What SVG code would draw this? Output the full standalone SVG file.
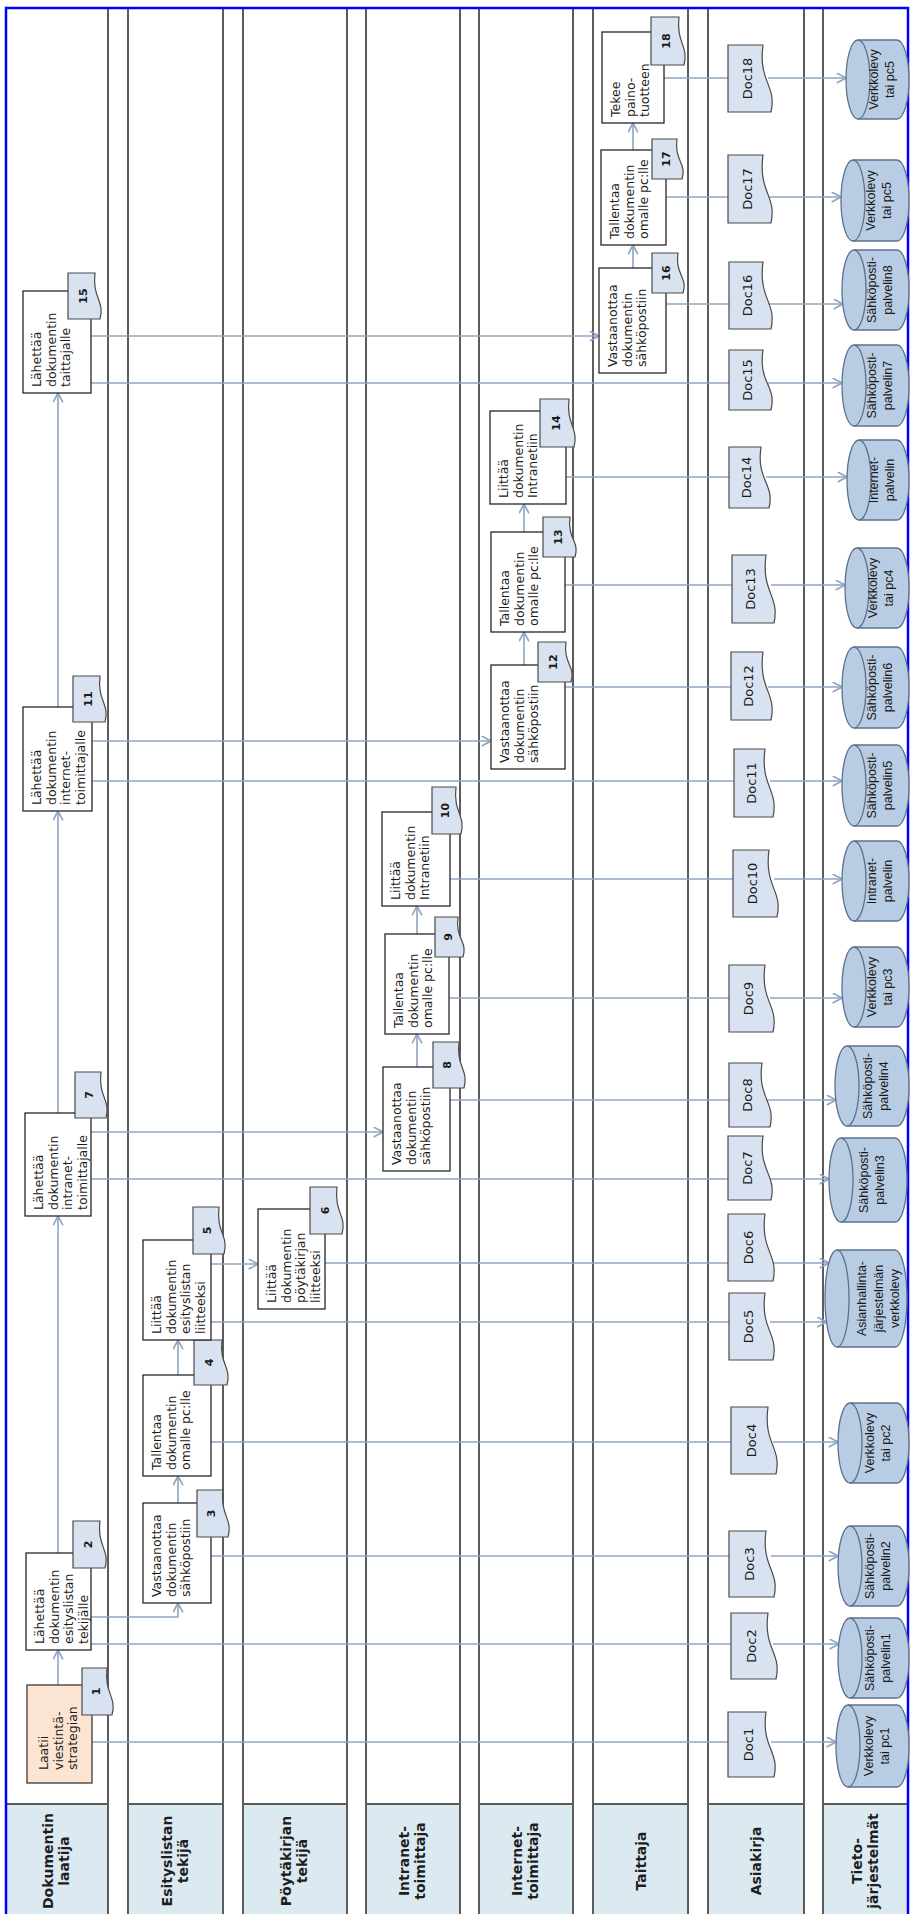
<svg xmlns="http://www.w3.org/2000/svg" width="910" height="1914" viewBox="0 0 910 1914">
<defs>
<style>
.lane{fill:#fff;stroke:#5c5c5c;stroke-width:2}
.hdr{fill:#dbe9f1;stroke:#5c5c5c;stroke-width:2}
.ht{font-family:"DejaVu Sans",Verdana,sans-serif;font-weight:bold;font-size:14px;fill:#1e1e1e;text-anchor:middle}
.box{fill:#fff;stroke:#262626;stroke-width:1.3}
.start{fill:#fce4d2;stroke:#3a3a3a;stroke-width:1.3}
.nt{font-family:"DejaVu Sans",Verdana,sans-serif;font-size:12.5px;fill:#1a1a1a}
.doc{fill:#d8e2f0;stroke:#4a4a4a;stroke-width:1.2}
.dt{font-family:"DejaVu Sans",Verdana,sans-serif;font-size:13px;fill:#1a1a1a;text-anchor:middle}
.bt{font-family:"DejaVu Sans",Verdana,sans-serif;font-weight:bold;font-size:11px;fill:#1a1a1a;text-anchor:middle}
.cyl{fill:#b8cce4;stroke:#5d718e;stroke-width:1.3}
.cap{fill:none;stroke:#5d718e;stroke-width:1.3}
.ct{font-family:"Liberation Sans",Arial,sans-serif;font-size:12.5px;fill:#1a1a1a;text-anchor:middle}
.c{fill:none;stroke:#8ea5c3;stroke-width:1.6}
.a{marker-end:url(#arr)}
</style>
<marker id="arr" viewBox="0 0 10 10" refX="9.5" refY="5" markerWidth="11" markerHeight="11" markerUnits="userSpaceOnUse" orient="auto"><path d="M1,0.5 L9.5,5 L1,9.5" fill="none" stroke="#8ea5c3" stroke-width="1.5"/></marker>
</defs>
<rect width="910" height="1914" fill="#fff"/>

<g id="lanes">
<g id="lane-dokumentin-laatija"><rect class="lane" x="6" y="8" width="102" height="1796"/><rect class="hdr" x="6" y="1804" width="102" height="115"/>
<text class="ht" transform="translate(57,1861) rotate(-90)"><tspan x="0" y="-4">Dokumentin</tspan><tspan x="0" y="12">laatija</tspan></text></g>
<g id="lane-esityslistan-tekija"><rect class="lane" x="128" y="8" width="95" height="1796"/><rect class="hdr" x="128" y="1804" width="95" height="115"/>
<text class="ht" transform="translate(175.5,1861) rotate(-90)"><tspan x="0" y="-4">Esityslistan</tspan><tspan x="0" y="12">tekijä</tspan></text></g>
<g id="lane-poytakirjan-tekija"><rect class="lane" x="243" y="8" width="104" height="1796"/><rect class="hdr" x="243" y="1804" width="104" height="115"/>
<text class="ht" transform="translate(295,1861) rotate(-90)"><tspan x="0" y="-4">Pöytäkirjan</tspan><tspan x="0" y="12">tekijä</tspan></text></g>
<g id="lane-intranet-toimittaja"><rect class="lane" x="366" y="8" width="94" height="1796"/><rect class="hdr" x="366" y="1804" width="94" height="115"/>
<text class="ht" transform="translate(413,1861) rotate(-90)"><tspan x="0" y="-4">Intranet-</tspan><tspan x="0" y="12">toimittaja</tspan></text></g>
<g id="lane-internet-toimittaja"><rect class="lane" x="479" y="8" width="94" height="1796"/><rect class="hdr" x="479" y="1804" width="94" height="115"/>
<text class="ht" transform="translate(526,1861) rotate(-90)"><tspan x="0" y="-4">Internet-</tspan><tspan x="0" y="12">toimittaja</tspan></text></g>
<g id="lane-taittaja"><rect class="lane" x="593" y="8" width="95" height="1796"/><rect class="hdr" x="593" y="1804" width="95" height="115"/>
<text class="ht" transform="translate(640.5,1861) rotate(-90)"><tspan x="0" y="5">Taittaja</tspan></text></g>
<g id="lane-asiakirja"><rect class="lane" x="708" y="8" width="96" height="1796"/><rect class="hdr" x="708" y="1804" width="96" height="115"/>
<text class="ht" transform="translate(756,1861) rotate(-90)"><tspan x="0" y="5">Asiakirja</tspan></text></g>
<g id="lane-tietojarjestelmat"><rect class="lane" x="823" y="8" width="85" height="1796"/><rect class="hdr" x="823" y="1804" width="85" height="115"/>
<text class="ht" transform="translate(865.5,1861) rotate(-90)"><tspan x="0" y="-4">Tieto-</tspan><tspan x="0" y="12">järjestelmät</tspan></text></g>
<path d="M6 1914V8H908V1914" fill="none" stroke="#0000ff" stroke-width="2.5"/>
</g>

<g id="connectors">
<path class="c a" d="M58 1685V1650"/>
<path class="c a" d="M58 1553V1216"/>
<path class="c a" d="M58 1113V811"/>
<path class="c a" d="M58 707V393"/>
<path class="c a" d="M178 1503V1476"/>
<path class="c a" d="M178 1375V1340"/>
<path class="c a" d="M91 1617H178V1603"/>
<path class="c a" d="M211 1264H258"/>
<path class="c a" d="M417 1067V1034"/>
<path class="c a" d="M417 934V906"/>
<path class="c a" d="M91 1132H383"/>
<path class="c a" d="M524 665V632"/>
<path class="c a" d="M524 532V504"/>
<path class="c a" d="M92 741H491"/>
<path class="c a" d="M633 268V245"/>
<path class="c a" d="M633 150V123"/>
<path class="c a" d="M91 336H599"/>
<path class="c" d="M92 1742H728"/>
<path class="c" d="M91 1644H731"/>
<path class="c" d="M211 1556H729"/>
<path class="c" d="M211 1442H731"/>
<path class="c" d="M211 1322H729"/>
<path class="c" d="M325 1263H728"/>
<path class="c" d="M91 1179H728"/>
<path class="c" d="M450 1100H729"/>
<path class="c" d="M449 998H729"/>
<path class="c" d="M450 879H733"/>
<path class="c" d="M92 781H734"/>
<path class="c" d="M565 687H731"/>
<path class="c" d="M565 585H732"/>
<path class="c" d="M566 477H729"/>
<path class="c" d="M91 383H729"/>
<path class="c" d="M666 304H729"/>
<path class="c" d="M666 197H728"/>
<path class="c" d="M664 78H728"/>
<path class="c a" d="M771 1742H836"/>
<path class="c a" d="M773 1644H839"/>
<path class="c a" d="M771 1556H838"/>
<path class="c a" d="M773 1442H838"/>
<path class="c a" d="M770 1322H826.5"/>
<path class="c a" d="M770 1263H829"/>
<path class="c a" d="M768 1179H829"/>
<path class="c a" d="M767 1100H836"/>
<path class="c a" d="M770 998H842"/>
<path class="c a" d="M774 879H842"/>
<path class="c a" d="M770 781H842"/>
<path class="c a" d="M768 687H842"/>
<path class="c a" d="M771 585H845"/>
<path class="c a" d="M766 477H847"/>
<path class="c a" d="M768 383H842"/>
<path class="c a" d="M768 304H843"/>
<path class="c a" d="M768 197H841"/>
<path class="c a" d="M768 78H846"/>
</g>

<g id="n1"><rect class="start" x="27" y="1685" width="65" height="98"/>
<text class="nt" transform="translate(27,1783) rotate(-90)"><tspan x="13" y="21">Laatii</tspan><tspan x="13" y="35.5">viestintä-</tspan><tspan x="13" y="50">strategian</tspan></text>
<path class="doc" d="M82 1668H107C104 1693.9 117 1696.2 112 1715H82Z"/><text class="bt" transform="translate(95.5,1691.5) rotate(-90)" y="4">1</text></g>

<g id="n2"><rect class="box" x="26" y="1553" width="65" height="97"/>
<text class="nt" transform="translate(26,1650) rotate(-90)"><tspan x="6" y="18">Lähettää</tspan><tspan x="6" y="32.5">dokumentin</tspan><tspan x="6" y="47">esityslistan</tspan><tspan x="6" y="61.5">tekijälle</tspan></text>
<path class="doc" d="M73 1521H100C97 1546.9 110 1549.2 105 1568H73Z"/><text class="bt" transform="translate(87.5,1544.5) rotate(-90)" y="4">2</text></g>

<g id="n3"><rect class="box" x="143" y="1503" width="68" height="100"/>
<text class="nt" transform="translate(143,1603) rotate(-90)"><tspan x="6" y="18">Vastaanottaa</tspan><tspan x="6" y="32.5">dokumentin</tspan><tspan x="6" y="47">sähköpostiin</tspan></text>
<path class="doc" d="M197 1490H223C220 1515.9 233 1518.2 228 1537H197Z"/><text class="bt" transform="translate(211,1513.5) rotate(-90)" y="4">3</text></g>

<g id="n4"><rect class="box" x="143" y="1375" width="68" height="101"/>
<text class="nt" transform="translate(143,1476) rotate(-90)"><tspan x="6" y="18">Tallentaa</tspan><tspan x="6" y="32.5">dokumentin</tspan><tspan x="6" y="47">omalle pc:lle</tspan></text>
<path class="doc" d="M194 1340H222C219 1364.8 232 1367 227 1385H194Z"/><text class="bt" transform="translate(209,1362.5) rotate(-90)" y="4">4</text></g>

<g id="n5"><rect class="box" x="143" y="1240" width="68" height="100"/>
<text class="nt" transform="translate(143,1340) rotate(-90)"><tspan x="6" y="18">Liittää</tspan><tspan x="6" y="32.5">dokumentin</tspan><tspan x="6" y="47">esityslistan</tspan><tspan x="6" y="61.5">liitteeksi</tspan></text>
<path class="doc" d="M193 1207H219C216 1232.9 229 1235.2 224 1254H193Z"/><text class="bt" transform="translate(207,1230.5) rotate(-90)" y="4">5</text></g>

<g id="n6"><rect class="box" x="258" y="1209" width="67" height="100"/>
<text class="nt" transform="translate(258,1309) rotate(-90)"><tspan x="6" y="18">Liittää</tspan><tspan x="6" y="32.5">dokumentin</tspan><tspan x="6" y="47">pöytäkirjan</tspan><tspan x="6" y="61.5">liitteeksi</tspan></text>
<path class="doc" d="M310 1187H337C334 1212.9 347 1215.2 342 1234H310Z"/><text class="bt" transform="translate(324.5,1210.5) rotate(-90)" y="4">6</text></g>

<g id="n7"><rect class="box" x="25" y="1113" width="66" height="103"/>
<text class="nt" transform="translate(25,1216) rotate(-90)"><tspan x="6" y="18">Lähettää</tspan><tspan x="6" y="32.5">dokumentin</tspan><tspan x="6" y="47">intranet-</tspan><tspan x="6" y="61.5">toimittajalle</tspan></text>
<path class="doc" d="M75 1072H101C98 1097.3 111 1099.6 106 1118H75Z"/><text class="bt" transform="translate(89,1095) rotate(-90)" y="4">7</text></g>

<g id="n8"><rect class="box" x="383" y="1067" width="67" height="104"/>
<text class="nt" transform="translate(383,1171) rotate(-90)"><tspan x="6" y="18">Vastaanottaa</tspan><tspan x="6" y="32.5">dokumentin</tspan><tspan x="6" y="47">sähköpostiin</tspan></text>
<path class="doc" d="M433 1042H459C456 1067.3 469 1069.6 464 1088H433Z"/><text class="bt" transform="translate(447,1065) rotate(-90)" y="4">8</text></g>

<g id="n9"><rect class="box" x="385" y="934" width="64" height="100"/>
<text class="nt" transform="translate(385,1034) rotate(-90)"><tspan x="6" y="18">Tallentaa</tspan><tspan x="6" y="32.5">dokumentin</tspan><tspan x="6" y="47">omalle pc:lle</tspan></text>
<path class="doc" d="M435 917H458C455 939 468 941 463 957H435Z"/><text class="bt" transform="translate(447.5,937) rotate(-90)" y="4">9</text></g>

<g id="n10"><rect class="box" x="382" y="812" width="68" height="94"/>
<text class="nt" transform="translate(382,906) rotate(-90)"><tspan x="6" y="18">Liittää</tspan><tspan x="6" y="32.5">dokumentin</tspan><tspan x="6" y="47">Intranetiin</tspan></text>
<path class="doc" d="M432 787H456C453 812.9 466 815.2 461 834H432Z"/><text class="bt" transform="translate(445,810.5) rotate(-90)" y="4">10</text></g>

<g id="n11"><rect class="box" x="23" y="707" width="69" height="104"/>
<text class="nt" transform="translate(23,811) rotate(-90)"><tspan x="6" y="18">Lähettää</tspan><tspan x="6" y="32.5">dokumentin</tspan><tspan x="6" y="47">internet-</tspan><tspan x="6" y="61.5">toimittajalle</tspan></text>
<path class="doc" d="M73 676H100C97 701.3 110 703.6 105 722H73Z"/><text class="bt" transform="translate(87.5,699) rotate(-90)" y="4">11</text></g>

<g id="n12"><rect class="box" x="491" y="665" width="74" height="104"/>
<text class="nt" transform="translate(491,769) rotate(-90)"><tspan x="6" y="18">Vastaanottaa</tspan><tspan x="6" y="32.5">dokumentin</tspan><tspan x="6" y="47">sähköpostiin</tspan></text>
<path class="doc" d="M538 642H566C563 664 576 666 571 682H538Z"/><text class="bt" transform="translate(553,662) rotate(-90)" y="4">12</text></g>

<g id="n13"><rect class="box" x="491" y="532" width="74" height="100"/>
<text class="nt" transform="translate(491,632) rotate(-90)"><tspan x="6" y="18">Tallentaa</tspan><tspan x="6" y="32.5">dokumentin</tspan><tspan x="6" y="47">omalle pc:lle</tspan></text>
<path class="doc" d="M543 517H570C567 539 580 541 575 557H543Z"/><text class="bt" transform="translate(557.5,537) rotate(-90)" y="4">13</text></g>

<g id="n14"><rect class="box" x="490" y="411" width="76" height="93"/>
<text class="nt" transform="translate(490,504) rotate(-90)"><tspan x="6" y="18">Liittää</tspan><tspan x="6" y="32.5">dokumentin</tspan><tspan x="6" y="47">Intranetiin</tspan></text>
<path class="doc" d="M540 399H569C566 425.4 579 427.8 574 447H540Z"/><text class="bt" transform="translate(555.5,423) rotate(-90)" y="4">14</text></g>

<g id="n15"><rect class="box" x="23" y="291" width="68" height="102"/>
<text class="nt" transform="translate(23,393) rotate(-90)"><tspan x="6" y="18">Lähettää</tspan><tspan x="6" y="32.5">dokumentin</tspan><tspan x="6" y="47">taittajalle</tspan></text>
<path class="doc" d="M68 273H95C92 298.3 105 300.6 100 319H68Z"/><text class="bt" transform="translate(82.5,296) rotate(-90)" y="4">15</text></g>

<g id="n16"><rect class="box" x="599" y="268" width="67" height="105"/>
<text class="nt" transform="translate(599,373) rotate(-90)"><tspan x="6" y="18">Vastaanottaa</tspan><tspan x="6" y="32.5">dokumentin</tspan><tspan x="6" y="47">sähköpostiin</tspan></text>
<path class="doc" d="M652 253H678C675 275 688 277 683 293H652Z"/><text class="bt" transform="translate(666,273) rotate(-90)" y="4">16</text></g>

<g id="n17"><rect class="box" x="601" y="150" width="65" height="95"/>
<text class="nt" transform="translate(601,245) rotate(-90)"><tspan x="6" y="18">Tallentaa</tspan><tspan x="6" y="32.5">dokumentin</tspan><tspan x="6" y="47">omalle pc:lle</tspan></text>
<path class="doc" d="M652 139H677C674 161 687 163 682 179H652Z"/><text class="bt" transform="translate(665.5,159) rotate(-90)" y="4">17</text></g>

<g id="n18"><rect class="box" x="602" y="32" width="62" height="91"/>
<text class="nt" transform="translate(602,123) rotate(-90)"><tspan x="6" y="18">Tekee</tspan><tspan x="6" y="32.5">paino-</tspan><tspan x="6" y="47">tuotteen</tspan></text>
<path class="doc" d="M651 17H679C676 43.4 689 45.8 684 65H651Z"/><text class="bt" transform="translate(666,41) rotate(-90)" y="4">18</text></g>

<g id="doc1"><path class="doc" d="M728 1712H766C761 1747.8 780 1751 774 1777H728Z"/><text class="dt" transform="translate(748.5,1744.5) rotate(-90)" y="4.5">Doc1</text></g>
<g id="doc2"><path class="doc" d="M731 1613H768C763 1649.3 782 1652.6 776 1679H731Z"/><text class="dt" transform="translate(751,1646) rotate(-90)" y="4.5">Doc2</text></g>
<g id="doc3"><path class="doc" d="M729 1531H766C761 1567.3 780 1570.6 774 1597H729Z"/><text class="dt" transform="translate(749,1564) rotate(-90)" y="4.5">Doc3</text></g>
<g id="doc4"><path class="doc" d="M731 1407H768C763 1443.9 782 1447.2 776 1474H731Z"/><text class="dt" transform="translate(751,1440.5) rotate(-90)" y="4.5">Doc4</text></g>
<g id="doc5"><path class="doc" d="M729 1293H765C760 1329.9 779 1333.2 773 1360H729Z"/><text class="dt" transform="translate(748.5,1326.5) rotate(-90)" y="4.5">Doc5</text></g>
<g id="doc6"><path class="doc" d="M728 1214H765C760 1250.9 779 1254.2 773 1281H728Z"/><text class="dt" transform="translate(748,1247.5) rotate(-90)" y="4.5">Doc6</text></g>
<g id="doc7"><path class="doc" d="M728 1136H763C758 1171.2 777 1174.4 771 1200H728Z"/><text class="dt" transform="translate(747,1168) rotate(-90)" y="4.5">Doc7</text></g>
<g id="doc8"><path class="doc" d="M729 1063H762C757 1098.2 776 1101.4 770 1127H729Z"/><text class="dt" transform="translate(747,1095) rotate(-90)" y="4.5">Doc8</text></g>
<g id="doc9"><path class="doc" d="M729 965H765C760 1001.9 779 1005.2 773 1032H729Z"/><text class="dt" transform="translate(748.5,998.5) rotate(-90)" y="4.5">Doc9</text></g>
<g id="doc10"><path class="doc" d="M733 850H769C764 886.9 783 890.2 777 917H733Z"/><text class="dt" transform="translate(752.5,883.5) rotate(-90)" y="4.5">Doc10</text></g>
<g id="doc11"><path class="doc" d="M734 749H765C760 786.4 779 789.8 773 817H734Z"/><text class="dt" transform="translate(751,783) rotate(-90)" y="4.5">Doc11</text></g>
<g id="doc12"><path class="doc" d="M731 652H763C758 689.4 777 692.8 771 720H731Z"/><text class="dt" transform="translate(748.5,686) rotate(-90)" y="4.5">Doc12</text></g>
<g id="doc13"><path class="doc" d="M732 555H766C761 592.4 780 595.8 774 623H732Z"/><text class="dt" transform="translate(750.5,589) rotate(-90)" y="4.5">Doc13</text></g>
<g id="doc14"><path class="doc" d="M729 447H761C756 480.6 775 483.6 769 508H729Z"/><text class="dt" transform="translate(746.5,477.5) rotate(-90)" y="4.5">Doc14</text></g>
<g id="doc15"><path class="doc" d="M729 350H763C758 383 777 386 771 410H729Z"/><text class="dt" transform="translate(747.5,380) rotate(-90)" y="4.5">Doc15</text></g>
<g id="doc16"><path class="doc" d="M729 262H763C758 298.9 777 302.2 771 329H729Z"/><text class="dt" transform="translate(747.5,295.5) rotate(-90)" y="4.5">Doc16</text></g>
<g id="doc17"><path class="doc" d="M728 155H763C758 192.4 777 195.8 771 223H728Z"/><text class="dt" transform="translate(747,189) rotate(-90)" y="4.5">Doc17</text></g>
<g id="doc18"><path class="doc" d="M728 45H763C758 81.9 777 85.2 771 112H728Z"/><text class="dt" transform="translate(747,78.5) rotate(-90)" y="4.5">Doc18</text></g>

<g id="sys1"><path class="cyl" d="M848 1705H897A12 41 0 0 1 897 1787H848A12 41 0 0 1 848 1705Z"/><path class="cap" d="M848 1705A12 41 0 0 1 848 1787"/>
<text class="ct" transform="translate(872.5,1746) rotate(-90)"><tspan x="0" y="0">Verkkolevy</tspan><tspan x="0" y="16">tai pc1</tspan></text></g>
<g id="sys2"><path class="cyl" d="M850 1618H897A12 40 0 0 1 897 1698H850A12 40 0 0 1 850 1618Z"/><path class="cap" d="M850 1618A12 40 0 0 1 850 1698"/>
<text class="ct" transform="translate(873.5,1658) rotate(-90)"><tspan x="0" y="0">Sähköposti-</tspan><tspan x="0" y="16">palvelin1</tspan></text></g>
<g id="sys3"><path class="cyl" d="M850 1526H897A12 40 0 0 1 897 1606H850A12 40 0 0 1 850 1526Z"/><path class="cap" d="M850 1526A12 40 0 0 1 850 1606"/>
<text class="ct" transform="translate(873.5,1566) rotate(-90)"><tspan x="0" y="0">Sähköposti-</tspan><tspan x="0" y="16">palvelin2</tspan></text></g>
<g id="sys4"><path class="cyl" d="M850 1403H897A12 40 0 0 1 897 1483H850A12 40 0 0 1 850 1403Z"/><path class="cap" d="M850 1403A12 40 0 0 1 850 1483"/>
<text class="ct" transform="translate(873.5,1443) rotate(-90)"><tspan x="0" y="0">Verkkolevy</tspan><tspan x="0" y="16">tai pc2</tspan></text></g>
<g id="sys5"><path class="cyl" d="M837 1250H895A12 48.5 0 0 1 895 1347H837A12 48.5 0 0 1 837 1250Z"/><path class="cap" d="M837 1250A12 48.5 0 0 1 837 1347"/>
<text class="ct" transform="translate(866,1298.5) rotate(-90)"><tspan x="0" y="0">Asianhallinta-</tspan><tspan x="0" y="16.5">järjestelmän</tspan><tspan x="0" y="33">verkkolevy</tspan></text></g>
<g id="sys6"><path class="cyl" d="M841 1138H895A12 42 0 0 1 895 1222H841A12 42 0 0 1 841 1138Z"/><path class="cap" d="M841 1138A12 42 0 0 1 841 1222"/>
<text class="ct" transform="translate(868,1180) rotate(-90)"><tspan x="0" y="0">Sähköposti-</tspan><tspan x="0" y="16">palvelin3</tspan></text></g>
<g id="sys7"><path class="cyl" d="M847 1046H897A12 40 0 0 1 897 1126H847A12 40 0 0 1 847 1046Z"/><path class="cap" d="M847 1046A12 40 0 0 1 847 1126"/>
<text class="ct" transform="translate(872,1086) rotate(-90)"><tspan x="0" y="0">Sähköposti-</tspan><tspan x="0" y="16">palvelin4</tspan></text></g>
<g id="sys8"><path class="cyl" d="M854 947H897A12 40 0 0 1 897 1027H854A12 40 0 0 1 854 947Z"/><path class="cap" d="M854 947A12 40 0 0 1 854 1027"/>
<text class="ct" transform="translate(875.5,987) rotate(-90)"><tspan x="0" y="0">Verkkolevy</tspan><tspan x="0" y="16">tai pc3</tspan></text></g>
<g id="sys9"><path class="cyl" d="M854 841H897A12 40 0 0 1 897 921H854A12 40 0 0 1 854 841Z"/><path class="cap" d="M854 841A12 40 0 0 1 854 921"/>
<text class="ct" transform="translate(875.5,881) rotate(-90)"><tspan x="0" y="0">Intranet-</tspan><tspan x="0" y="16">palvelin</tspan></text></g>
<g id="sys10"><path class="cyl" d="M854 745H897A12 40.5 0 0 1 897 826H854A12 40.5 0 0 1 854 745Z"/><path class="cap" d="M854 745A12 40.5 0 0 1 854 826"/>
<text class="ct" transform="translate(875.5,785.5) rotate(-90)"><tspan x="0" y="0">Sähköposti-</tspan><tspan x="0" y="16">palvelin5</tspan></text></g>
<g id="sys11"><path class="cyl" d="M854 647H897A12 40.5 0 0 1 897 728H854A12 40.5 0 0 1 854 647Z"/><path class="cap" d="M854 647A12 40.5 0 0 1 854 728"/>
<text class="ct" transform="translate(875.5,687.5) rotate(-90)"><tspan x="0" y="0">Sähköposti-</tspan><tspan x="0" y="16">palvelin6</tspan></text></g>
<g id="sys12"><path class="cyl" d="M857 548H897A12 40 0 0 1 897 628H857A12 40 0 0 1 857 548Z"/><path class="cap" d="M857 548A12 40 0 0 1 857 628"/>
<text class="ct" transform="translate(877,588) rotate(-90)"><tspan x="0" y="0">Verkkolevy</tspan><tspan x="0" y="16">tai pc4</tspan></text></g>
<g id="sys13"><path class="cyl" d="M859 440H897A12 40 0 0 1 897 520H859A12 40 0 0 1 859 440Z"/><path class="cap" d="M859 440A12 40 0 0 1 859 520"/>
<text class="ct" transform="translate(878,480) rotate(-90)"><tspan x="0" y="0">Internet-</tspan><tspan x="0" y="16">palvelin</tspan></text></g>
<g id="sys14"><path class="cyl" d="M854 345H897A12 40.5 0 0 1 897 426H854A12 40.5 0 0 1 854 345Z"/><path class="cap" d="M854 345A12 40.5 0 0 1 854 426"/>
<text class="ct" transform="translate(875.5,385.5) rotate(-90)"><tspan x="0" y="0">Sähköposti-</tspan><tspan x="0" y="16">palvelin7</tspan></text></g>
<g id="sys15"><path class="cyl" d="M854 250H897A12 40 0 0 1 897 330H854A12 40 0 0 1 854 250Z"/><path class="cap" d="M854 250A12 40 0 0 1 854 330"/>
<text class="ct" transform="translate(875.5,290) rotate(-90)"><tspan x="0" y="0">Sähköposti-</tspan><tspan x="0" y="16">palvelin8</tspan></text></g>
<g id="sys16"><path class="cyl" d="M853 160H897A12 40.5 0 0 1 897 241H853A12 40.5 0 0 1 853 160Z"/><path class="cap" d="M853 160A12 40.5 0 0 1 853 241"/>
<text class="ct" transform="translate(875,200.5) rotate(-90)"><tspan x="0" y="0">Verkkolevy</tspan><tspan x="0" y="16">tai pc5</tspan></text></g>
<g id="sys17"><path class="cyl" d="M858 40H897A12 39.5 0 0 1 897 119H858A12 39.5 0 0 1 858 40Z"/><path class="cap" d="M858 40A12 39.5 0 0 1 858 119"/>
<text class="ct" transform="translate(877.5,79.5) rotate(-90)"><tspan x="0" y="0">Verkkolevy</tspan><tspan x="0" y="16">tai pc5</tspan></text></g>
</svg>
